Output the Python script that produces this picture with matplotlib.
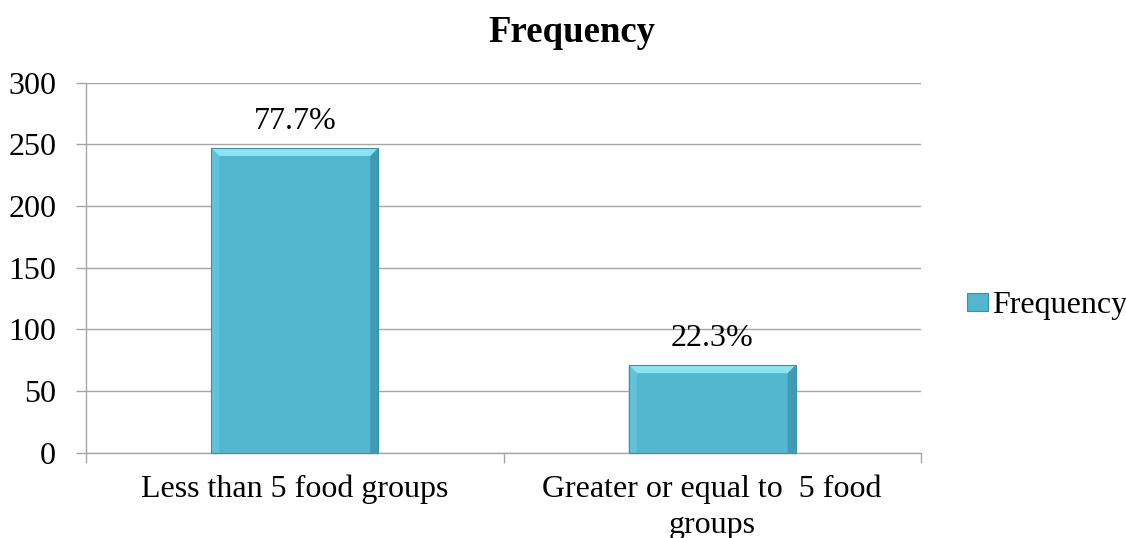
import matplotlib
matplotlib.use("Agg")
import matplotlib.pyplot as plt
from matplotlib.patches import Polygon, Rectangle

# Data
categories = ["Less than 5 food groups", "Greater or equal to  5 food\ngroups"]
frequency = [247, 71]
percent_labels = ["77.7%", "22.3%"]
series_name = "Frequency"
yticks = [0, 50, 100, 150, 200, 250, 300]

plt.rcParams["font.family"] = ["Liberation Serif", "DejaVu Serif"]

W, H = 1126, 538
FS = 23
fig = plt.figure(figsize=(W / 100, H / 100), dpi=100)
ax = fig.add_axes([86 / W, 1 - 452.7 / H, (921 - 86) / W, (452.7 - 82.7) / H])

body = "#52B6CF"
grid_col = "#A6A6A6"

bars = ax.bar(range(len(categories)), frequency, width=0.4, color=body,
              edgecolor="none", zorder=2)

ax.set_xlim(-0.5, len(categories) - 0.5)
ax.set_ylim(0, 300)
ax.set_yticks(yticks)
ax.set_yticklabels([str(v) for v in yticks], fontsize=FS)
ax.yaxis.grid(True, color=grid_col, linewidth=1.0)
ax.set_axisbelow(True)

for s in ("top", "right"):
    ax.spines[s].set_visible(False)
for s in ("left", "bottom"):
    ax.spines[s].set_color(grid_col)
    ax.spines[s].set_linewidth(1.0)

ax.tick_params(axis="y", length=7.5, width=1.0, color=grid_col, pad=14,
               labelcolor="black")
# category labels centred, boundary tick marks between categories
ax.set_xticks(range(len(categories)))
ax.set_xticklabels(categories, fontsize=FS, linespacing=1.3)
ax.tick_params(axis="x", which="major", length=0, pad=16)
ax.set_xticks([-0.5 + i for i in range(len(categories) + 1)], minor=True)
ax.tick_params(axis="x", which="minor", length=7, width=1.0, color=grid_col)

# value labels above bars
for rect, lab in zip(bars, percent_labels):
    ax.annotate(lab, (rect.get_x() + rect.get_width() / 2, rect.get_height()),
                xytext=(0, 14), textcoords="offset points", ha="center",
                va="baseline", fontsize=FS)

fig.text(572 / W, 1 - 42 / H, "Frequency", fontsize=26.5, fontweight="bold",
         ha="center", va="baseline")

# bevel shading on each bar, drawn in display space
fig.canvas.draw()
bev = 8
for rect in bars:
    bb = rect.get_window_extent()
    x0, y0, x1, y1 = bb.x0, bb.y0, bb.x1, bb.y1
    faces = [
        ([(x0, y1), (x1, y1), (x1 - bev, y1 - bev), (x0 + bev, y1 - bev)], "#8EE3F2"),
        ([(x0, y1), (x0 + bev, y1 - bev), (x0 + bev, y0), (x0, y0)], "#5FC3D9"),
        ([(x1, y1), (x1 - bev, y1 - bev), (x1 - bev, y0), (x1, y0)], "#3E9BB3"),
    ]
    for pts, col in faces:
        fig.patches.append(Polygon(pts, closed=True, facecolor=col,
                                   edgecolor="none", transform=None, zorder=3))
    fig.patches.append(Polygon([(x0, y0), (x0, y1), (x1, y1), (x1, y0)],
                               closed=True, facecolor="none",
                               edgecolor="#3C8FA6", linewidth=0.8,
                               transform=None, zorder=4))

# legend
handle = Rectangle((0, 0), 1, 1, facecolor=body, edgecolor="#3C8FA6", linewidth=0.8)
fig.legend([handle], [series_name], loc="center left",
           bbox_to_anchor=(967 / W, 1 - 306 / H), frameon=False, fontsize=FS,
           handlelength=0.66, handleheight=0.5, handletextpad=0.12,
           borderpad=0, borderaxespad=0)

fig.savefig("out.png", dpi=100, facecolor="white")
